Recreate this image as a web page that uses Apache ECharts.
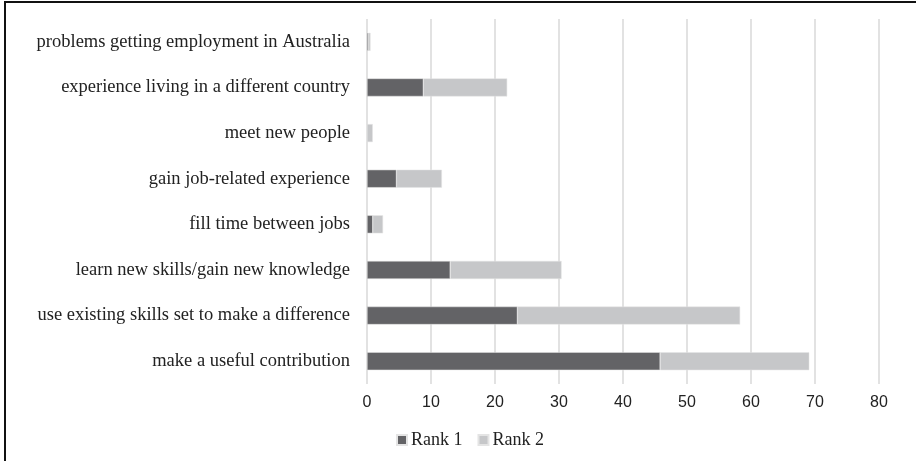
<!DOCTYPE html>
<html><head><meta charset="utf-8">
<script src="https://cdn.jsdelivr.net/npm/echarts@6/dist/echarts.min.js"></script>
<style>html,body{margin:0;padding:0;background:#fff}#c{width:916px;height:461px}</style>
</head><body><div id="c"></div>
<script>
const categories = [
  "make a useful contribution",
  "use existing skills set to make a difference",
  "learn new skills/gain new knowledge",
  "fill time between jobs",
  "gain job-related experience",
  "meet new people",
  "experience living in a different country",
  "problems getting employment in Australia"
];
const rank1 = [45.8, 23.5, 13.0, 0.9, 4.6, 0, 8.8, 0.25];
const rank2 = [23.3, 34.8, 17.4, 1.6, 7.1, 0.9, 13.1, 0.3];
const xTicks = [0, 10, 20, 30, 40, 50, 60, 70, 80];

const chart = echarts.init(document.getElementById('c'), null, {renderer: 'canvas'});
chart.setOption({
  animation: false,
  backgroundColor: '#fff',
  grid: {left: 367, right: 37, top: 19, bottom: 77, containLabel: false},
  legend: {
    data: ['Rank 1', 'Rank 2'],
    left: 391, top: 426,
    itemWidth: 10, itemHeight: 10, itemGap: 15,
    icon: 'rect',
    textStyle: {fontFamily: '"Liberation Serif", "Times New Roman", serif', fontSize: 18, color: '#222', padding: [0, 0, 0, -1]}
  },
  xAxis: {
    type: 'value', min: xTicks[0], max: xTicks[xTicks.length - 1], interval: 10,
    axisLine: {show: false},
    axisTick: {show: false},
    axisLabel: {fontFamily: '"Liberation Sans", Arial, sans-serif', fontSize: 16, color: '#222', margin: 11},
    splitLine: {show: true, lineStyle: {color: '#d9d9d9', width: 1.5}}
  },
  yAxis: {
    type: 'category', data: categories,
    axisLine: {show: false},
    axisTick: {show: false},
    axisLabel: {fontFamily: '"Liberation Serif", "Times New Roman", serif', fontSize: 18.5, color: '#222', margin: 17}
  },
  series: [
    {name: 'Rank 1', type: 'bar', stack: 's', data: rank1, barWidth: 18,
     itemStyle: {color: '#636366', borderColor: '#e4e4e4', borderWidth: 0.5}},
    {name: 'Rank 2', type: 'bar', stack: 's', data: rank2, barWidth: 18,
     itemStyle: {color: '#c6c7c9', borderColor: '#e4e4e4', borderWidth: 0.5}}
  ],
  graphic: [
    {type: 'line', shape: {x1: 5, y1: 2, x2: 5, y2: 461}, style: {stroke: '#111', lineWidth: 2}},
    {type: 'line', shape: {x1: 4, y1: 2, x2: 916, y2: 2}, style: {stroke: '#111', lineWidth: 2}}
  ]
});
</script></body></html>
